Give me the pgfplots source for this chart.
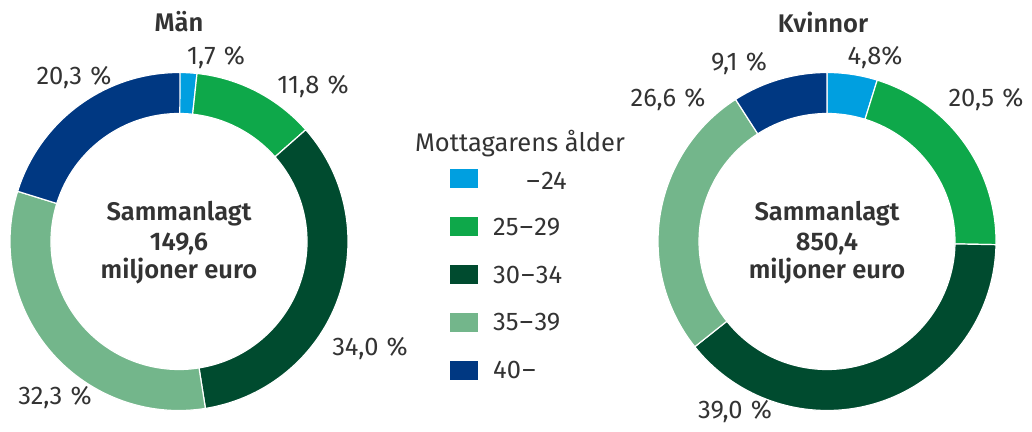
\documentclass[border=0pt]{standalone}
\usepackage{pgfplots}
\usepackage{pgfplotstable}
\pgfplotsset{compat=1.18}
\usepackage{fontspec}
\setmainfont{Fira Sans}[BoldFont={Fira Sans SemiBold}]
\definecolor{cA}{HTML}{009FE0}
\definecolor{cB}{HTML}{0EA84A}
\definecolor{cC}{HTML}{004B2F}
\definecolor{cD}{HTML}{73B68B}
\definecolor{cE}{HTML}{003882}
\definecolor{txt}{HTML}{333333}

\pgfplotstableread{
value color
1.7 cA
11.8 cB
34.0 cC
32.3 cD
20.3 cE
}\mentable
\pgfplotstableread{
value color
4.8 cA
20.5 cB
39.0 cC
26.6 cD
9.1 cE
}\womentable

\def\Ro{169}
\def\Ri{128}
\newcommand\donut[3]{%
  \def\cum{0}%
  \pgfplotsforeachungrouped \i in {0,...,4}{%
    \pgfplotstablegetelem{\i}{value}\of{#1}\let\v\pgfplotsretval
    \pgfplotstablegetelem{\i}{color}\of{#1}\let\c\pgfplotsretval
    \pgfmathsetmacro\aA{90-3.6*\cum}%
    \pgfmathsetmacro\aB{90-3.6*(\cum+\v)}%
    \pgfmathsetmacro\cum{\cum+\v}%
    \pgfmathsetmacro\xo{#2+\Ro*cos(\aA)}%
    \pgfmathsetmacro\yo{#3+\Ro*sin(\aA)}%
    \pgfmathsetmacro\xi{#2+\Ri*cos(\aB)}%
    \pgfmathsetmacro\yi{#3+\Ri*sin(\aB)}%
    \edef\temp{\noexpand\fill[\c, draw=white, line width=1.2pt]
      (axis cs:\xo,\yo) arc[start angle=\aA, end angle=\aB, radius=\Ro pt]
      -- (axis cs:\xi,\yi) arc[start angle=\aB, end angle=\aA, radius=\Ri pt] -- cycle;}%
    \temp
  }%
}
\tikzset{lab/.style={font=\fontsize{25.5}{30}\selectfont, text=txt, inner sep=0pt},
  blab/.style={font=\fontsize{25.5}{30}\selectfont\bfseries, text=txt, inner sep=0pt}}
\newcommand\pc{\hspace{0.32em}\%}
\newcommand\dash{\kern1.3pt–\kern1.3pt}

\begin{document}
\begin{tikzpicture}
\begin{axis}[
  scale only axis, width=1032pt, height=431pt,
  xmin=0, xmax=1032, ymin=0, ymax=431,
  hide axis, clip=false,
]
\path (axis cs:0,0) rectangle (axis cs:1032,431);
\donut{\mentable}{179}{189.5}
\donut{\womentable}{827}{189.5}

% titles
\node[blab] at (axis cs:179,409) {Män};
\node[blab] at (axis cs:823,409) {Kvinnor};
% center texts
\node[blab] at (axis cs:179,217) {Sammanlagt};
\node[blab] at (axis cs:179,187) {149,6};
\node[blab] at (axis cs:179,160) {miljoner euro};
\node[blab] at (axis cs:827,217) {Sammanlagt};
\node[blab] at (axis cs:827,187) {850,4};
\node[blab] at (axis cs:827,160) {miljoner euro};
% men labels
\node[lab] at (axis cs:216,373) {1,7\pc};
\node[lab] at (axis cs:313,344) {11,8\pc};
\node[lab] at (axis cs:74,353) {20,3\pc};
\node[lab] at (axis cs:370,82) {34,0\pc};
\node[lab] at (axis cs:55,33) {32,3\pc};
% women labels
\node[lab] at (axis cs:875,373) {4,8\%};
\node[lab] at (axis cs:986,331) {20,5\pc};
\node[lab] at (axis cs:739,367) {9,1\pc};
\node[lab] at (axis cs:668,331) {26,6\pc};
\node[lab] at (axis cs:735,19) {39,0\pc};
% legend
\node[lab] at (axis cs:520,287) {Mottagarens ålder};
\fill[cA] (axis cs:450,243) rectangle (axis cs:478,262);
\fill[cB] (axis cs:450,194.5) rectangle (axis cs:478,213.5);
\fill[cC] (axis cs:450,146.5) rectangle (axis cs:478,165.5);
\fill[cD] (axis cs:450,99.5) rectangle (axis cs:478,118.5);
\fill[cE] (axis cs:450,51.5) rectangle (axis cs:478,70.5);
\node[lab, anchor=east] at (axis cs:567,250) {–\kern1.3pt24};
\node[lab, anchor=west] at (axis cs:493,204) {25\dash29};
\node[lab, anchor=west] at (axis cs:493,156) {30\dash34};
\node[lab, anchor=west] at (axis cs:493,109) {35\dash39};
\node[lab, anchor=west] at (axis cs:493,61) {40\kern1.3pt–};
\end{axis}
\end{tikzpicture}
\end{document}
